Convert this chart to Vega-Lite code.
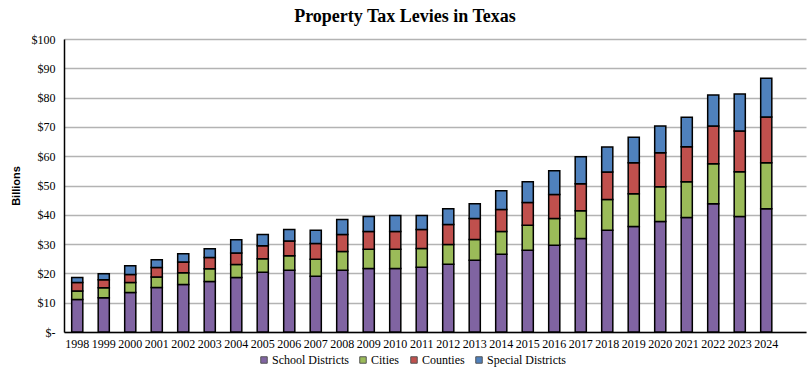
{
  "$schema": "https://vega.github.io/schema/vega-lite/v6.json",
  "width": 742,
  "height": 293,
  "autosize": "none",
  "padding": {"left": 64, "top": 39, "right": 5, "bottom": 38},
  "background": "white",
  "config": {
    "view": {"stroke": null},
    "font": "Liberation Serif"
  },
  "title": {
    "text": "Property Tax Levies in Texas",
    "font": "Liberation Serif",
    "fontSize": 18,
    "fontWeight": "bold",
    "color": "#000000",
    "anchor": "middle",
    "dx": -30,
    "offset": 7
  },
  "data": {
    "values": [
      {"year": "1998", "School Districts": 11.1, "Cities": 2.9, "Counties": 2.9, "Special Districts": 1.7},
      {"year": "1999", "School Districts": 11.7, "Cities": 3.4, "Counties": 2.7, "Special Districts": 2.1},
      {"year": "2000", "School Districts": 13.5, "Cities": 3.4, "Counties": 2.7, "Special Districts": 3.0},
      {"year": "2001", "School Districts": 15.2, "Cities": 3.6, "Counties": 3.2, "Special Districts": 2.7},
      {"year": "2002", "School Districts": 16.2, "Cities": 4.0, "Counties": 3.7, "Special Districts": 2.8},
      {"year": "2003", "School Districts": 17.2, "Cities": 4.4, "Counties": 3.8, "Special Districts": 3.0},
      {"year": "2004", "School Districts": 18.6, "Cities": 4.4, "Counties": 4.0, "Special Districts": 4.5},
      {"year": "2005", "School Districts": 20.4, "Cities": 4.6, "Counties": 4.4, "Special Districts": 3.9},
      {"year": "2006", "School Districts": 21.1, "Cities": 4.9, "Counties": 5.1, "Special Districts": 3.9},
      {"year": "2007", "School Districts": 19.0, "Cities": 5.8, "Counties": 5.4, "Special Districts": 4.5},
      {"year": "2008", "School Districts": 21.1, "Cities": 6.4, "Counties": 5.8, "Special Districts": 5.1},
      {"year": "2009", "School Districts": 21.7, "Cities": 6.5, "Counties": 6.1, "Special Districts": 5.1},
      {"year": "2010", "School Districts": 21.7, "Cities": 6.5, "Counties": 6.1, "Special Districts": 5.5},
      {"year": "2011", "School Districts": 22.1, "Cities": 6.4, "Counties": 6.5, "Special Districts": 4.8},
      {"year": "2012", "School Districts": 23.1, "Cities": 6.8, "Counties": 6.8, "Special Districts": 5.4},
      {"year": "2013", "School Districts": 24.5, "Cities": 7.1, "Counties": 7.1, "Special Districts": 5.1},
      {"year": "2014", "School Districts": 26.5, "Cities": 7.8, "Counties": 7.5, "Special Districts": 6.4},
      {"year": "2015", "School Districts": 27.9, "Cities": 8.5, "Counties": 7.8, "Special Districts": 7.1},
      {"year": "2016", "School Districts": 29.6, "Cities": 9.1, "Counties": 8.2, "Special Districts": 8.1},
      {"year": "2017", "School Districts": 31.9, "Cities": 9.5, "Counties": 9.2, "Special Districts": 9.2},
      {"year": "2018", "School Districts": 34.7, "Cities": 10.5, "Counties": 9.4, "Special Districts": 8.5},
      {"year": "2019", "School Districts": 36.0, "Cities": 11.2, "Counties": 10.6, "Special Districts": 8.7},
      {"year": "2020", "School Districts": 37.7, "Cities": 11.9, "Counties": 11.6, "Special Districts": 9.1},
      {"year": "2021", "School Districts": 39.1, "Cities": 12.2, "Counties": 11.9, "Special Districts": 10.1},
      {"year": "2022", "School Districts": 43.8, "Cities": 13.6, "Counties": 12.9, "Special Districts": 10.6},
      {"year": "2023", "School Districts": 39.4, "Cities": 15.3, "Counties": 13.9, "Special Districts": 12.6},
      {"year": "2024", "School Districts": 42.1, "Cities": 15.7, "Counties": 15.6, "Special Districts": 13.2}
    ]
  },
  "transform": [
    {"fold": ["School Districts", "Cities", "Counties", "Special Districts"], "as": ["type", "value"]},
    {"window": [{"op": "row_number", "as": "rank"}], "groupby": ["year"]}
  ],
  "mark": {"type": "bar", "stroke": "#000000", "strokeWidth": 1.5},
  "encoding": {
    "x": {
      "field": "year",
      "type": "ordinal",
      "scale": {
        "domain": ["1998","1999","2000","2001","2002","2003","2004","2005","2006","2007","2008","2009","2010","2011","2012","2013","2014","2015","2016","2017","2018","2019","2020","2021","2022","2023","2024",""],
        "paddingInner": 0.58,
        "paddingOuter": 0.29
      },
      "axis": {
        "title": null,
        "labelAngle": 0,
        "labelFont": "Liberation Serif",
        "labelFontSize": 12,
        "labelColor": "#000000",
        "labelPadding": 6,
        "ticks": false,
        "domainColor": "#000000",
        "domainWidth": 1.5
      }
    },
    "y": {
      "field": "value",
      "type": "quantitative",
      "stack": "zero",
      "scale": {"domain": [0, 100], "nice": false},
      "axis": {
        "title": "Billions",
        "titleFont": "Liberation Sans",
        "titleFontSize": 11,
        "titleFontWeight": "bold",
        "titleColor": "#000000",
        "titlePadding": 10,
        "values": [0, 10, 20, 30, 40, 50, 60, 70, 80, 90, 100],
        "labelExpr": "datum.value == 0 ? '$-' : '$' + datum.value",
        "labelFont": "Liberation Serif",
        "labelFontSize": 12,
        "labelColor": "#000000",
        "labelPadding": 9,
        "ticks": false,
        "domainColor": "#000000",
        "domainWidth": 1.5,
        "gridColor": "#b3b3b3",
        "gridWidth": 1.5
      }
    },
    "color": {
      "field": "type",
      "type": "nominal",
      "sort": ["School Districts", "Cities", "Counties", "Special Districts"],
      "scale": {
        "domain": ["School Districts", "Cities", "Counties", "Special Districts"],
        "range": ["#8064A2", "#9BBB59", "#C0504D", "#4F81BD"]
      },
      "legend": {
        "title": null,
        "orient": "none",
        "legendX": 194,
        "legendY": 315,
        "direction": "horizontal",
        "symbolType": "square",
        "symbolSize": 42,
        "symbolStrokeColor": "#555555",
        "symbolStrokeWidth": 1,
        "symbolOpacity": 1,
        "labelFont": "Liberation Serif",
        "labelFontSize": 12,
        "labelColor": "#000000",
        "labelOffset": 2,
        "columnPadding": 8,
        "padding": 0
      }
    },
    "order": {"field": "rank", "type": "quantitative", "sort": "ascending"}
  }
}
